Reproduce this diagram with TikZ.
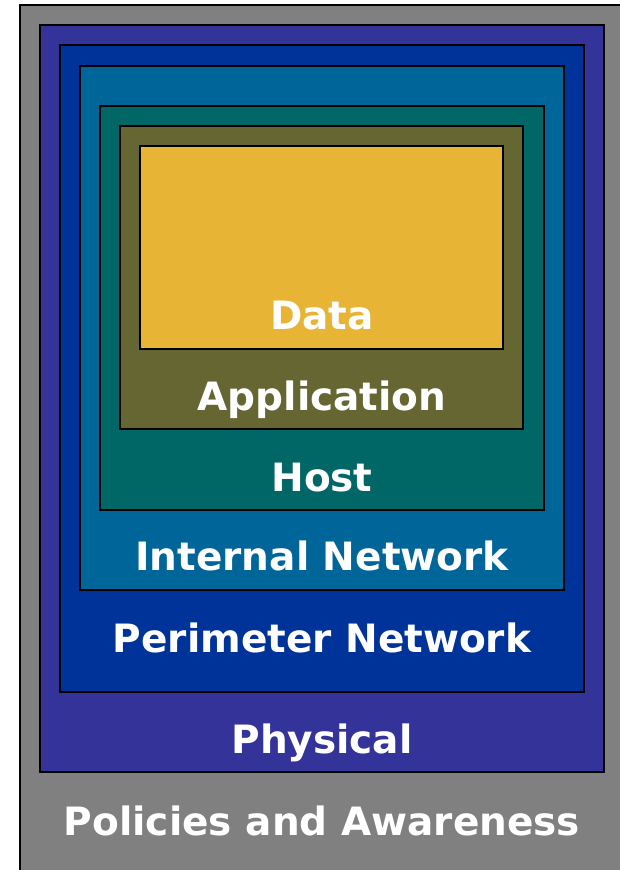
\documentclass[tikz,border=0pt]{standalone}
\usepackage{fontspec}
\setmainfont{DejaVu Sans}
\definecolor{policygray}{HTML}{808080}
\definecolor{physpurple}{HTML}{333399}
\definecolor{perimblue}{HTML}{003399}
\definecolor{internalblue}{HTML}{006699}
\definecolor{hostteal}{HTML}{006666}
\definecolor{appolive}{HTML}{666633}
\definecolor{datagold}{HTML}{E8B435}
\begin{document}
\begin{tikzpicture}[x=1pt,y=-1pt,
  layer/.style={draw=black,line width=1.6pt},
  lbl/.style={text=white,font=\fontsize{39}{45}\selectfont\bfseries,anchor=base,inner sep=0pt}]
\useasboundingbox (0,0) rectangle (619,870);
\fill[white] (-10,-10) rectangle (20,890);
% outermost layer runs off the right and bottom edges
\fill[policygray] (20,5) rectangle (640,890);
\draw[line width=1.6pt] (20,890) -- (20,5) -- (640,5);
% concentric defence layers, outer to inner
\draw[layer,fill=physpurple]   (40,25)  rectangle (604,772);
\draw[layer,fill=perimblue]    (60,45)  rectangle (584,692);
\draw[layer,fill=internalblue] (80,66)  rectangle (564,590);
\draw[layer,fill=hostteal]     (100,106) rectangle (544,510);
\draw[layer,fill=appolive]     (120,126) rectangle (523,429);
\draw[layer,fill=datagold]     (140,146) rectangle (503,349);
% layer names
\node[lbl] (data)   at (322,329) {Data};
\node[lbl] (app)    at (322,410) {Application};
\node[lbl] (host)   at (322,491) {Host};
\node[lbl] (intnet) at (322,570) {Internal Network};
\node[lbl] (perim)  at (322,652) {Perimeter Network};
\node[lbl] (phys)   at (322,753) {Physical};
\node[lbl] (policy) at (322,835) {Policies and Awareness};
\end{tikzpicture}
\end{document}
